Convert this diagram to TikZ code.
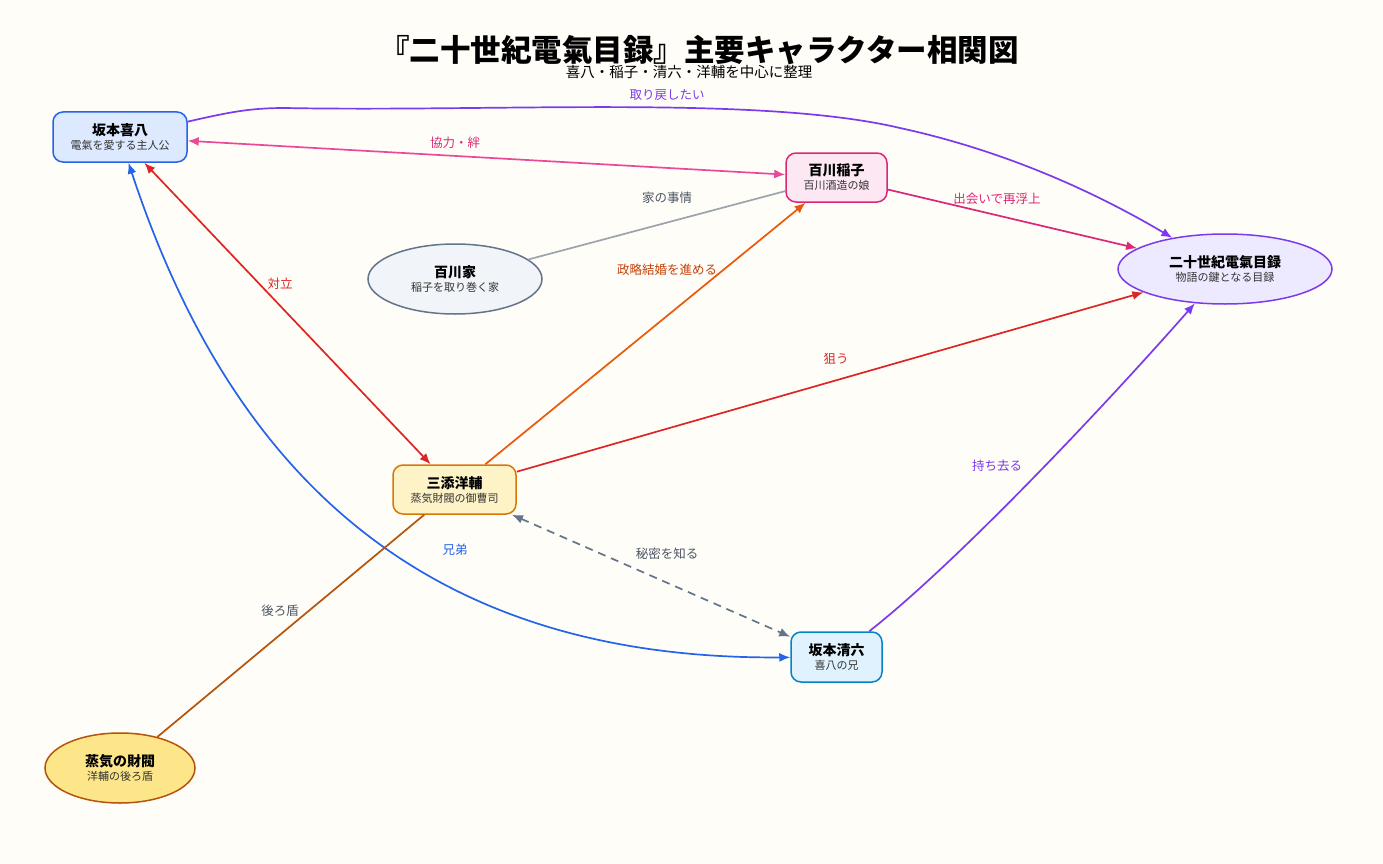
\documentclass[tikz,border=0pt]{standalone}
\usepackage{fontspec}
\setmainfont{Noto Sans CJK JP}
\usetikzlibrary{arrows.meta}
\definecolor{bgc}{HTML}{FFFDF7}
\definecolor{blueB}{HTML}{2563EB}\definecolor{blueF}{HTML}{DCE9FE}
\definecolor{pinkB}{HTML}{DB2777}\definecolor{pinkF}{HTML}{FCE7F3}
\definecolor{pinkL}{HTML}{EC4899}
\definecolor{grayB}{HTML}{64748B}\definecolor{grayF}{HTML}{F1F4F8}
\definecolor{grayL}{HTML}{9CA3AF}\definecolor{grayT}{HTML}{4B5563}
\definecolor{purB}{HTML}{7C3AED}\definecolor{purF}{HTML}{EDE9FE}
\definecolor{orgB}{HTML}{D97706}\definecolor{orgF}{HTML}{FEF3C7}
\definecolor{skyB}{HTML}{0284C7}\definecolor{skyF}{HTML}{E0F2FE}
\definecolor{brnB}{HTML}{B45309}\definecolor{brnF}{HTML}{FDE68A}
\definecolor{redL}{HTML}{DC2626}\definecolor{orgL}{HTML}{EA580C}
\definecolor{orgT}{HTML}{C2410C}\definecolor{subT}{HTML}{333333}
\newcommand{\ndtext}[2]{{\bfseries\fontsize{14}{16}\selectfont #1}\\[2pt]{\fontsize{11}{13}\selectfont\color{subT}#2}}
\tikzset{
  box/.style={draw, line width=1.5pt, rounded corners=10pt, align=center, inner sep=0pt},
  oval/.style={draw, ellipse, line width=1.5pt, align=center, inner sep=0pt},
  conn/.style={line width=1.7pt},
  tip/.style={-{Latex[length=11pt,width=9pt]}},
  tips/.style={{Latex[length=11pt,width=9pt]}-{Latex[length=11pt,width=9pt]}},
  lbl/.style={font=\fontsize{12.5}{14}\selectfont, inner sep=1pt}
}
\usetikzlibrary{shapes.geometric}
\begin{document}
\begin{tikzpicture}[x=1pt,y=-1pt]
\fill[bgc] (0,0) rectangle (1383,864);
\useasboundingbox (0,0) rectangle (1383,864);

\node (title) at (699,50) {\fontsize{30.5}{34}\selectfont\bfseries 『二十世紀電氣目録』主要キャラクター相関図};
\node (subtitle) at (689,72) {\fontsize{14.5}{16}\selectfont 喜八・稲子・清六・洋輔を中心に整理};

\node[box, draw=blueB, fill=blueF, minimum width=134pt, minimum height=50pt] (kihachi) at (120,137) {\ndtext{坂本喜八}{電氣を愛する主人公}};
\node[box, draw=pinkB, fill=pinkF, minimum width=101pt, minimum height=49pt] (inako) at (836.5,177.5) {\ndtext{百川稲子}{百川酒造の娘}};
\node[oval, draw=grayB, fill=grayF, minimum width=174pt, minimum height=70pt] (momokawa) at (455,279) {\ndtext{百川家}{稲子を取り巻く家}};
\node[oval, draw=purB, fill=purF, minimum width=214pt, minimum height=70pt] (mokuroku) at (1225,269) {\ndtext{二十世紀電氣目録}{物語の鍵となる目録}};
\node[box, draw=orgB, fill=orgF, minimum width=123pt, minimum height=49pt] (sanzoe) at (454.5,489.5) {\ndtext{三添洋輔}{蒸気財閥の御曹司}};
\node[box, draw=skyB, fill=skyF, minimum width=91pt, minimum height=50pt] (seiroku) at (836.5,657) {\ndtext{坂本清六}{喜八の兄}};
\node[oval, draw=brnB, fill=brnF, minimum width=150pt, minimum height=70pt] (zaibatsu) at (120,768) {\ndtext{蒸気の財閥}{洋輔の後ろ盾}};

% connectors
\draw[conn, tip, purB] (kihachi) .. controls (230,112) and (250,108) .. (285,108)
  .. controls (500,112) and (760,95) .. (900,128)
  .. controls (1010,152) and (1100,195) .. (mokuroku);
\draw[conn, tips, pinkL] (inako) -- (kihachi);
\draw[conn, tips, redL] (sanzoe) -- (kihachi);
\draw[conn, grayL] (momokawa) -- (inako);
\draw[conn, tip, pinkB] (inako) -- (mokuroku);
\draw[conn, tip, orgL] (sanzoe) -- (inako);
\draw[conn, tip, redL] (sanzoe) -- (mokuroku);
\draw[conn, tips, blueB] (kihachi) .. controls (230,470) and (420,660) .. (seiroku);
\draw[conn, tip, purB] (seiroku) .. controls (960,560) and (1110,400) .. (mokuroku);
\draw[conn, tips, grayB, dash pattern=on 8pt off 6pt] (sanzoe) -- (seiroku);
\draw[conn, brnB] (zaibatsu) -- (sanzoe);

% labels
\node[lbl, text=purB] (l1) at (667,95) {取り戻したい};
\node[lbl, text=pinkB] (l2) at (455,143) {協力・絆};
\node[lbl, text=redL] (l3) at (280,284) {対立};
\node[lbl, text=grayT] (l4) at (667,198) {家の事情};
\node[lbl, text=pinkB] (l5) at (997,199) {出会いで再浮上};
\node[lbl, text=orgT] (l6) at (667,270) {政略結婚を進める};
\node[lbl, text=redL] (l7) at (836,359) {狙う};
\node[lbl, text=blueB] (l8) at (455,550) {兄弟};
\node[lbl, text=purB] (l9) at (997,466) {持ち去る};
\node[lbl, text=grayT] (l10) at (667,554) {秘密を知る};
\node[lbl, text=grayT] (l11) at (280,611) {後ろ盾};
\end{tikzpicture}
\end{document}
